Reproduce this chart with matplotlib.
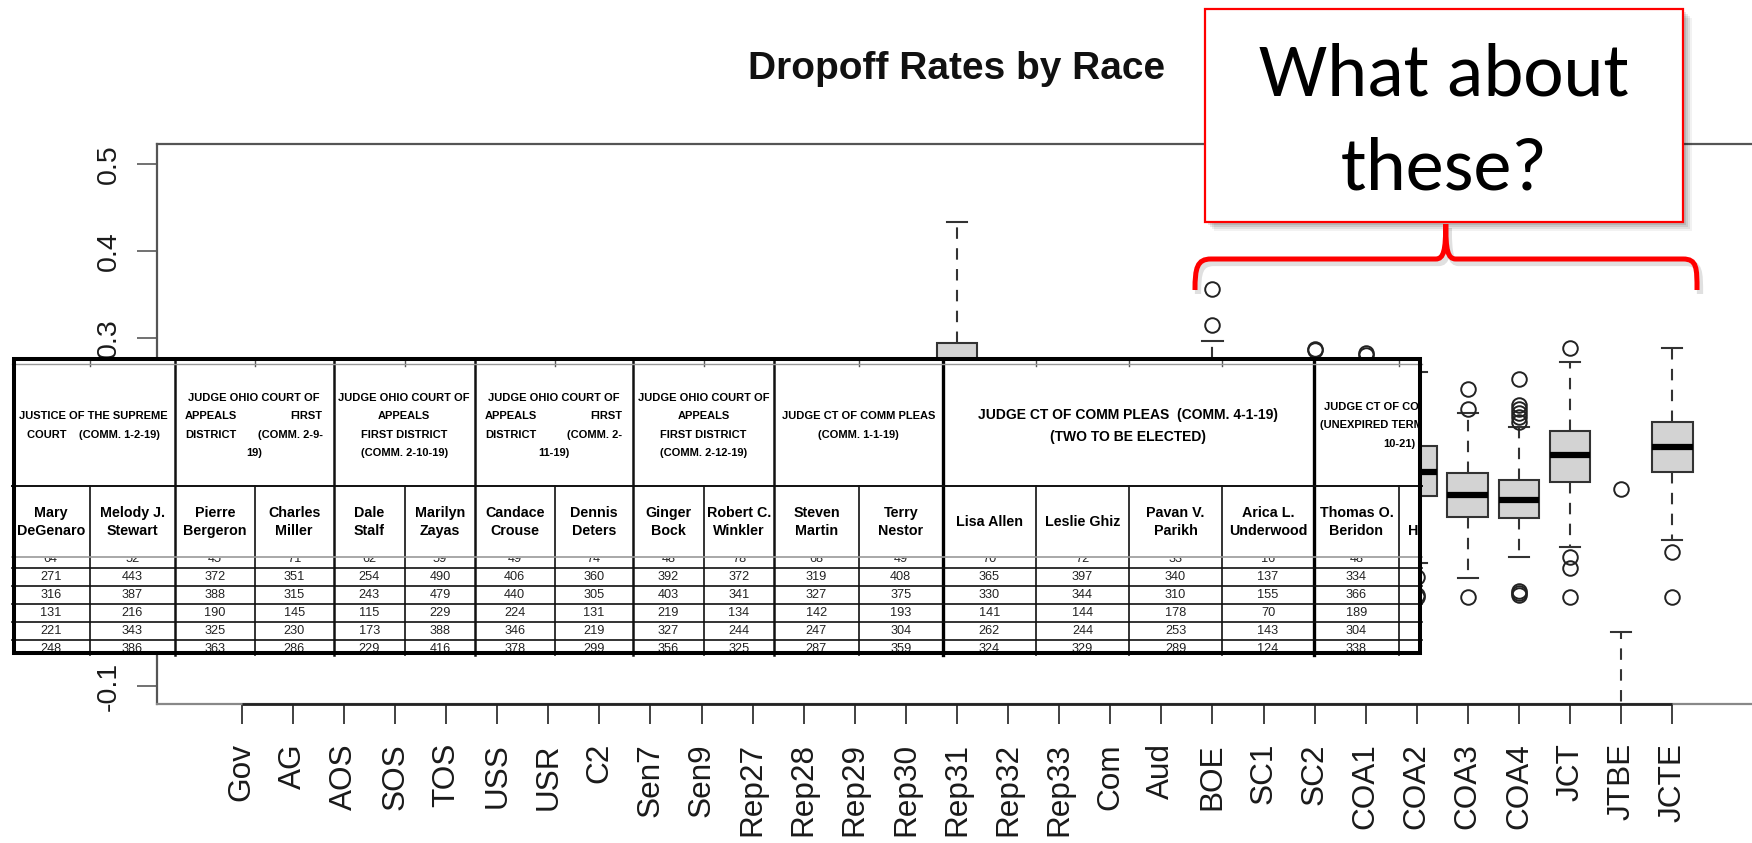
import matplotlib
matplotlib.use('Agg')
import matplotlib.pyplot as plt
from matplotlib import font_manager
from matplotlib.patches import Rectangle, PathPatch
from matplotlib.path import Path
from matplotlib.transforms import Bbox, Affine2D

plt.rcParams['font.family'] = ['Liberation Sans', 'DejaVu Sans']

# ---- boxplot data: dropoff rate by race ----
races = ['Gov', 'AG', 'AOS', 'SOS', 'TOS', 'USS', 'USR', 'C2', 'Sen7', 'Sen9',
         'Rep27', 'Rep28', 'Rep29', 'Rep30', 'Rep31', 'Rep32', 'Rep33', 'Com',
         'Aud', 'BOE', 'SC1', 'SC2', 'COA1', 'COA2', 'COA3', 'COA4', 'JCT',
         'JTBE', 'JCTE']
q1 = [0.012, 0.028, 0.041, 0.036, 0.039, 0.009, 0.017, 0.021, 0.047, 0.052,
      0.043, 0.048, 0.055, 0.051, 0.188, 0.049, 0.058, 0.072, 0.064, 0.158,
      0.118, 0.139, 0.147, 0.1185, 0.0947, 0.0928, 0.1349, -0.31, 0.1464]
med = [0.020, 0.038, 0.053, 0.047, 0.051, 0.016, 0.027, 0.033, 0.061, 0.066,
       0.057, 0.062, 0.071, 0.066, 0.243, 0.064, 0.074, 0.091, 0.082, 0.193,
       0.148, 0.171, 0.179, 0.1464, 0.1196, 0.1139, 0.1656, -0.25, 0.1752]
q3 = [0.029, 0.049, 0.066, 0.059, 0.064, 0.025, 0.038, 0.046, 0.076, 0.083,
      0.072, 0.078, 0.089, 0.083, 0.295, 0.081, 0.092, 0.112, 0.101, 0.229,
      0.179, 0.203, 0.211, 0.1763, 0.1446, 0.1369, 0.1936, -0.19, 0.2032]
whis_lo = [-0.006, 0.002, 0.009, 0.006, 0.008, -0.011, -0.008, -0.012, 0.011, 0.014,
           0.004, 0.008, 0.009, 0.006, 0.079, 0.003, 0.012, 0.021, 0.013, 0.089,
           0.052, 0.071, 0.082, 0.0411, 0.0245, 0.0480, 0.0602, -0.42, 0.0679]
whis_hi = [0.052, 0.078, 0.101, 0.092, 0.098, 0.047, 0.068, 0.083, 0.118, 0.127,
           0.114, 0.121, 0.138, 0.131, 0.434, 0.128, 0.142, 0.168, 0.154, 0.297,
           0.241, 0.268, 0.273, 0.2614, 0.2136, 0.1982, 0.2729, -0.0377, 0.289]
outliers = [[0.066, 0.081], [0.095], [0.121], [-0.021], [0.117], [0.063], [],
            [0.101], [], [0.149], [], [0.142], [], [0.157], [], [], [0.168],
            [0.192], [], [0.315, 0.357], [0.031], [0.286, 0.288, 0.044],
            [0.281, 0.283, 0.058], [0.0257, 0.0045, 0.0027],
            [0.2182, 0.2412, 0.0027],
            [0.204, 0.209, 0.214, 0.218, 0.223, 0.253, 0.0045, 0.0066, 0.0088],
            [0.289, 0.0487, 0.0353, 0.0027], [0.1265], [0.0544, 0.0027]]
y_ticks = [-0.1, 0.0, 0.1, 0.2, 0.3, 0.4, 0.5]

# ---- pasted results table ----
contests = [
    ['JUSTICE OF THE SUPREME', 'COURT    (COMM. 1-2-19)'],
    ['JUDGE OHIO COURT OF', 'APPEALS|FIRST', 'DISTRICT|(COMM. 2-9-', '19)'],
    ['JUDGE OHIO COURT OF', 'APPEALS', 'FIRST DISTRICT', '(COMM. 2-10-19)'],
    ['JUDGE OHIO COURT OF', 'APPEALS|FIRST', 'DISTRICT|(COMM. 2-', '11-19)'],
    ['JUDGE OHIO COURT OF', 'APPEALS', 'FIRST DISTRICT', '(COMM. 2-12-19)'],
    ['JUDGE CT OF COMM PLEAS', '(COMM. 1-1-19)'],
    ['JUDGE CT OF COMM PLEAS  (COMM. 4-1-19)', '(TWO TO BE ELECTED)'],
    ['<JUDGE CT OF COMM PLEAS', '<(UNEXPIRED TERM ENDING', '>10-21)'],
]
candidates = ['Mary\nDeGenaro', 'Melody J.\nStewart', 'Pierre\nBergeron',
              'Charles\nMiller', 'Dale\nStalf', 'Marilyn\nZayas',
              'Candace\nCrouse', 'Dennis\nDeters', 'Ginger\nBock',
              'Robert C.\nWinkler', 'Steven\nMartin', 'Terry\nNestor',
              'Lisa Allen', 'Leslie Ghiz', 'Pavan V.\nParikh',
              'Arica L.\nUnderwood', 'Thomas O.\nBeridon', '\nHartmann']
votes = [
    [64, 52, 45, 71, 62, 59, 49, 74, 48, 78, 68, 49, 70, 72, 33, 16, 48],
    [271, 443, 372, 351, 254, 490, 406, 360, 392, 372, 319, 408, 365, 397, 340, 137, 334],
    [316, 387, 388, 315, 243, 479, 440, 305, 403, 341, 327, 375, 330, 344, 310, 155, 366],
    [131, 216, 190, 145, 115, 229, 224, 131, 219, 134, 142, 193, 141, 144, 178, 70, 189],
    [221, 343, 325, 230, 173, 388, 346, 219, 327, 244, 247, 304, 262, 244, 253, 143, 304],
    [248, 386, 363, 286, 229, 416, 378, 299, 356, 325, 287, 359, 324, 329, 289, 124, 338],
]

# table layout in screen pixels
col_edges = [11.5, 90, 175, 255, 333.5, 405, 475, 554.5, 633, 704, 774, 859,
             942.5, 1036, 1129, 1222, 1314, 1399, 1484]
group_cols = [(0, 2), (2, 4), (4, 6), (6, 8), (8, 10), (10, 12), (12, 16), (16, 18)]
tab_x0, tab_x1, tab_y0, tab_y1 = 11.5, 1421.5, 357, 655
hdr_top, name_top, data_top = 364, 486, 556.5
row_h = 18.0
first_row_y = 559.3

W, H = 1752, 843
fig = plt.figure(figsize=(W / 100, H / 100), dpi=100)
ax = fig.add_axes([157 / W, 1 - 704 / H, 1600 / W, 560 / H])

n = len(races)
stats = [dict(med=med[i], q1=q1[i], q3=q3[i], whislo=whis_lo[i],
              whishi=whis_hi[i], fliers=outliers[i]) for i in range(n)]
pos = list(range(1, n + 1))
ax.bxp(stats, positions=pos, widths=0.8, patch_artist=True,
       boxprops=dict(facecolor='#d3d3d3', edgecolor='#333333', linewidth=1.5),
       medianprops=dict(color='black', linewidth=4.5, solid_capstyle='butt'),
       whiskerprops=dict(color='#333333', linewidth=1.5, linestyle=(0, (5.5, 4.5))),
       capprops=dict(color='#333333', linewidth=1.5),
       flierprops=dict(marker='o', markerfacecolor='none', markeredgecolor='#222222',
                       markersize=10.5, markeredgewidth=1.4, linestyle='none'),
       manage_ticks=False)

ax.set_xlim(0.5 - 0.04 * n, n + 0.5 + 0.04 * n)
ax.set_ylim(-0.1207, 0.5233)
ax.set_xticks(pos)
ax.set_xticklabels(races, rotation=90)
ax.set_yticks(y_ticks)
ax.set_yticklabels(['%g' % v for v in y_ticks], rotation=90, va='center')
ax.tick_params(axis='x', labelsize=22.7, length=14.4, width=1.3, pad=13.7,
               color='#333333', labelcolor='#1a1a1a')
ax.tick_params(axis='y', labelsize=20.5, length=14.4, width=1.3, pad=11,
               color='#666666', labelcolor='#1a1a1a')
for s in ax.spines.values():
    s.set_color('#555555')
    s.set_linewidth(1.6)
ax.spines['bottom'].set_color('#888888')
ylo = ax.get_ylim()[0]
ax.plot([pos[0], pos[-1]], [ylo, ylo], color='#222222', lw=2, clip_on=False,
        solid_capstyle='butt', zorder=5)

# y labels that sit completely under the pasted table are not seen
for v, lab in zip(y_ticks, ax.get_yticklabels()):
    ypx = H - ax.transData.transform((0, v))[1]
    if tab_y0 + 20 < ypx < tab_y1:
        lab.set_visible(False)

fig.text(957 / W, 1 - 79 / H, 'Dropoff Rates by Race', ha='center', va='baseline',
         fontsize=28, fontweight='bold', color='#111111')

# ---- overlay (table + callout) in pixel coordinates ----
ov = fig.add_axes([0, 0, 1, 1], zorder=10)
ov.set_xlim(0, W)
ov.set_ylim(H, 0)
ov.axis('off')
ov.patch.set_visible(False)


def px_box(x0, y0, x1, y1):
    (a, b), (c, d) = ov.transData.transform([(x0, y0), (x1, y1)])
    return Bbox.from_extents(min(a, c), min(b, d), max(a, c), max(b, d))


fonts = {f.name for f in font_manager.fontManager.ttflist}
if 'Liberation Sans Narrow' in fonts:
    hdr_kw = dict(family='Liberation Sans Narrow', fontsize=9.7, fontweight='bold')
    num_kw = dict(family='Liberation Sans Narrow', fontsize=10.5)
else:
    hdr_kw = dict(family='Liberation Sans', fontsize=8.0, fontweight='bold')
    num_kw = dict(family='Liberation Sans', fontsize=9.2)
wide_hdr_kw = dict(family='Liberation Sans', fontsize=10.0, fontweight='bold')
name_kw = dict(family='Liberation Sans', fontsize=10.3, fontweight='bold')

ov.add_patch(Rectangle((tab_x0, tab_y0), tab_x1 - tab_x0, tab_y1 - tab_y0,
                       facecolor='white', edgecolor='none', zorder=1))
inner = px_box(tab_x0 + 4, tab_y0 + 4, tab_x1 - 4, tab_y1 - 4)
data_clip = px_box(tab_x0 + 4, data_top + 1, tab_x1 - 4, tab_y1 - 3.5)

# contest headers
for g, (c0, c1) in enumerate(group_cols):
    xl, xr = col_edges[c0], col_edges[c1]
    lines = contests[g]
    kw = wide_hdr_kw if g == 6 else hdr_kw
    step = 22 if g == 6 else 18.2
    yc = 425.5
    for k, line in enumerate(lines):
        y = yc + (k - (len(lines) - 1) / 2) * step
        if '|' in line:
            a, b = line.split('|')
            items = [(xl + 10, a, 'left'), (xr - 11, b, 'right')]
        elif line.startswith('<'):
            items = [(xl + 6 + (0 if 'UNEXP' in line else 4), line[1:], 'left')]
        elif line.startswith('>'):
            items = [(1415, line[1:], 'right')]
        else:
            items = [((xl + xr) / 2, line, 'center')]
        for x, s, ha in items:
            t = ov.text(x, y, s, ha=ha, va='center', color='black', zorder=3,
                        clip_on=True, **kw)
            t.set_clip_box(inner)

# candidate names
for i, nm in enumerate(candidates):
    cx = (col_edges[i] + col_edges[i + 1]) / 2
    parts = nm.split('\n')
    for k, s in enumerate(parts):
        if not s:
            continue
        y = 522 + (k - (len(parts) - 1) / 2) * 18.3
        t = ov.text(cx, y, s, ha='center', va='center', color='black', zorder=3,
                    clip_on=True, **name_kw)
        t.set_clip_box(inner)

# vote counts
for r, row in enumerate(votes):
    y = first_row_y + r * row_h
    for i, v in enumerate(row):
        cx = (col_edges[i] + col_edges[i + 1]) / 2
        t = ov.text(cx, y, str(v), ha='center', va='center', color='#222222',
                    zorder=3, clip_on=True, **num_kw)
        t.set_clip_box(data_clip)

# grid lines
group_bounds = {col_edges[c0] for c0, _ in group_cols[1:]}
for xe in col_edges[1:-1]:
    if xe >= tab_x1:
        continue
    if xe in (col_edges[12], col_edges[16]):
        ov.plot([xe, xe], [hdr_top - 3, tab_y1], color='black', lw=2.4, zorder=4)
    elif xe in group_bounds:
        ov.plot([xe, xe], [hdr_top - 3, tab_y1], color='#111111', lw=1.8, zorder=4)
    else:
        ov.plot([xe, xe], [name_top, tab_y1], color='#111111', lw=1.2, zorder=4)
        ov.plot([xe, xe], [tab_y0 + 2, hdr_top + 2], color='#555555', lw=1.0, zorder=4)
ov.plot([tab_x0, tab_x1], [hdr_top, hdr_top], color='#999999', lw=1.0, zorder=4)
ov.plot([tab_x0, tab_x1], [name_top, name_top], color='#111111', lw=1.4, zorder=4)
ov.plot([tab_x0, tab_x1], [data_top, data_top], color='#9a9a9a', lw=1.2, zorder=4)
for r in range(1, len(votes)):
    yl = first_row_y + (r - 0.5) * row_h
    ov.plot([tab_x0, tab_x1], [yl, yl], color='#111111', lw=1.2, zorder=4)
ov.add_patch(Rectangle((tab_x0 + 2, tab_y0 + 2), tab_x1 - tab_x0 - 4, tab_y1 - tab_y0 - 4,
                       facecolor='none', edgecolor='black', lw=2.9, zorder=6))

# ---- callout ----
bx0, by0, bx1, by1 = 1205, 8.5, 1682.5, 222
for off, a in [(9, 0.05), (7, 0.07), (5, 0.09), (3, 0.1)]:
    ov.add_patch(Rectangle((bx0 + off, by0 + off), bx1 - bx0, by1 - by0,
                           facecolor='black', alpha=a, edgecolor='none', zorder=7))
ov.add_patch(Rectangle((bx0, by0), bx1 - bx0, by1 - by0, facecolor='white',
                       edgecolor='#ff0000', lw=1.6, zorder=8))
call_font = 'Carlito' if 'Carlito' in fonts else 'Lato'
ov.text((bx0 + bx1) / 2, 95, 'What about', ha='center', va='baseline',
        fontsize=55, family=call_font, color='black', zorder=9)
ov.text((bx0 + bx1) / 2, 189, 'these?', ha='center', va='baseline',
        fontsize=55, family=call_font, color='black', zorder=9)

xm = (bx0 + bx1) / 2 + 2
brace = Path([(1195, 290), (1195, 268), (1197, 259), (1211, 259),
              (xm - 10, 259), (xm - 2, 259), (xm, 250), (xm, 224),
              (xm, 250), (xm + 2, 259), (xm + 10, 259),
              (1683, 259), (1697, 259), (1697, 268), (1697, 290)],
             [Path.MOVETO, Path.CURVE4, Path.CURVE4, Path.CURVE4,
              Path.LINETO, Path.CURVE4, Path.CURVE4, Path.CURVE4,
              Path.CURVE4, Path.CURVE4, Path.CURVE4,
              Path.LINETO, Path.CURVE4, Path.CURVE4, Path.CURVE4])
ov.add_patch(PathPatch(brace, facecolor='none', edgecolor='black', alpha=0.12,
                       lw=4.5, zorder=7,
                       transform=ov.transData + Affine2D().translate(3, -4)))
ov.add_patch(PathPatch(brace, facecolor='none', edgecolor='#ff0000', lw=3.6,
                       zorder=8, capstyle='butt'))

fig.savefig('out.png', dpi=100)
